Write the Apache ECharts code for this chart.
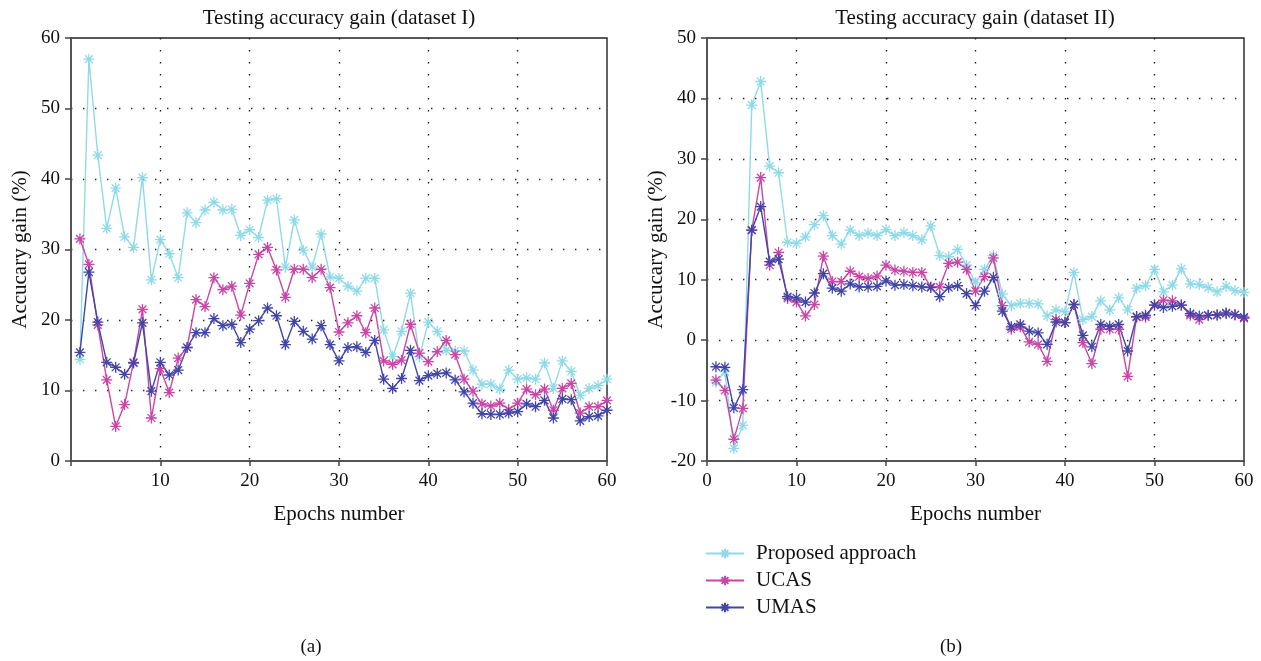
<!DOCTYPE html>
<html>
<head>
<meta charset="utf-8">
<script src="https://cdn.jsdelivr.net/npm/echarts@6/dist/echarts.min.js"></script>
<style>
  html, body { margin: 0; padding: 0; background: #fff; }
  #chart { width: 1261px; height: 661px; }
</style>
</head>
<body>
<div id="chart"></div>
<script>
// Epoch axis ticks
const epochTicks = [0, 10, 20, 30, 40, 50, 60];
const seriesNames = ['Proposed approach', 'UCAS', 'UMAS'];

// Dataset I: accuracy gain (%) per epoch 1..60
const proposedI = [14.4, 57.0, 43.4, 33.0, 38.7, 31.8, 30.3, 40.2, 25.7, 31.4,
  29.4, 26.0, 35.2, 33.8, 35.6, 36.7, 35.6, 35.7, 32.0, 32.8,
  31.7, 37.0, 37.2, 27.5, 34.2, 29.9, 27.5, 32.2, 26.1, 25.9,
  24.8, 24.1, 25.9, 25.9, 18.6, 14.8, 18.4, 23.8, 14.8, 19.7,
  18.4, 15.7, 15.6, 15.6, 12.9, 10.9, 10.9, 10.2, 12.9, 11.6,
  11.8, 11.6, 13.9, 10.3, 14.2, 12.7, 9.3, 10.3, 10.7, 11.6];
const ucasI = [31.5, 27.9, 19.3, 11.5, 4.9, 8.0, 14.0, 21.5, 6.1, 13.1,
  9.7, 14.6, 16.1, 22.9, 21.9, 26.0, 24.3, 24.8, 20.7, 25.2,
  29.3, 30.3, 27.1, 23.2, 27.2, 27.2, 26.0, 27.2, 24.6, 18.3,
  19.6, 20.6, 18.2, 21.7, 14.2, 13.7, 14.3, 19.4, 15.3, 14.1,
  15.5, 17.1, 15.1, 11.6, 9.9, 8.1, 7.8, 8.2, 7.3, 8.2,
  10.2, 9.4, 10.2, 7.2, 10.3, 11.0, 6.8, 7.7, 7.7, 8.6];
const umasI = [15.4, 26.8, 19.7, 14.0, 13.3, 12.3, 13.9, 19.6, 9.9, 14.0,
  12.2, 12.9, 16.1, 18.2, 18.2, 20.2, 19.2, 19.4, 16.8, 18.7,
  19.9, 21.7, 20.6, 16.5, 19.8, 18.4, 17.3, 19.2, 16.5, 14.2,
  16.1, 16.2, 15.4, 17.1, 11.6, 10.3, 11.7, 15.7, 11.4, 12.1,
  12.4, 12.5, 11.5, 9.8, 8.2, 6.7, 6.6, 6.6, 6.8, 7.0,
  8.1, 7.7, 8.6, 6.1, 8.8, 8.7, 5.7, 6.3, 6.4, 7.2];

// Dataset II: accuracy gain (%) per epoch 1..60
const proposedII = [-7.0, -5.2, -17.9, -14.1, 38.9, 42.8, 28.8, 27.7, 16.2, 16.0,
  17.1, 19.1, 20.6, 17.3, 15.9, 18.2, 17.3, 17.7, 17.3, 18.3,
  17.3, 17.8, 17.3, 16.6, 18.9, 14.0, 13.8, 15.0, 12.4, 9.5,
  11.7, 14.0, 7.6, 5.7, 6.1, 6.1, 6.0, 4.0, 5.0, 4.7,
  11.2, 3.4, 3.9, 6.5, 5.0, 7.0, 5.0, 8.6, 9.0, 11.7,
  8.0, 9.1, 11.8, 9.3, 9.2, 8.7, 8.0, 8.9, 8.2, 7.9];
const ucasII = [-6.6, -8.3, -16.4, -11.3, 18.2, 26.9, 12.4, 14.5, 6.9, 6.3,
  4.0, 5.9, 13.9, 9.7, 9.7, 11.4, 10.5, 10.2, 10.6, 12.4,
  11.6, 11.4, 11.2, 11.2, 8.8, 8.8, 12.7, 12.9, 11.7, 8.1,
  10.5, 13.6, 5.7, 1.8, 2.2, -0.3, -0.7, -3.5, 3.4, 2.9,
  5.9, -0.4, -3.9, 1.8, 1.8, 1.8, -6.0, 3.8, 3.8, 5.8,
  6.6, 6.5, 5.8, 4.1, 3.4, 4.1, 4.1, 4.4, 4.2, 3.6];
const umasII = [-4.4, -4.5, -11.2, -8.2, 18.2, 22.1, 13.0, 13.4, 7.2, 7.0,
  6.3, 7.8, 11.0, 8.6, 8.1, 9.3, 8.8, 8.8, 8.9, 9.8,
  9.1, 9.2, 9.0, 8.8, 8.7, 7.2, 8.7, 9.0, 7.7, 5.7,
  8.1, 10.4, 4.8, 2.2, 2.6, 1.5, 1.2, -0.7, 3.0, 2.9,
  5.9, 0.8, -1.1, 2.6, 2.3, 2.6, -1.8, 3.9, 4.1, 5.8,
  5.4, 5.6, 5.8, 4.4, 4.0, 4.1, 4.2, 4.5, 4.2, 3.8];

const colors = ['#8fdae8', '#c946a8', '#4146a6'];
const FONT = '"Liberation Serif", "Times New Roman", serif';
// eight-armed asterisk marker, stroked
const STAR = 'path://M0,-10L0,10M-10,0L10,0M-7.07,-7.07L7.07,7.07M-7.07,7.07L7.07,-7.07';

function pairs(vals) { return vals.map((v, i) => [i + 1, v]); }

const dotted = {
  show: true, showMinLine: false, showMaxLine: false,
  lineStyle: { color: '#222', width: 1.4, type: [1.4, 10.6] }
};

function xAxisFor(gridIndex, showZero) {
  return {
    type: 'value', gridIndex, min: epochTicks[0], max: epochTicks[epochTicks.length - 1], interval: 10,
    name: 'Epochs number', nameLocation: 'middle', nameGap: 43,
    nameTextStyle: { fontFamily: FONT, fontSize: 21, color: '#111' },
    axisLine: { show: true, onZero: false, lineStyle: { color: '#555', width: 2 } },
    axisTick: { show: true, inside: false, length: 5, lineStyle: { color: '#444', width: 1.5 } },
    axisLabel: {
      fontFamily: FONT, fontSize: 19, color: '#111', margin: 11,
      formatter: v => (v === 0 && !showZero) ? '' : String(v)
    },
    splitLine: dotted
  };
}

function yAxisFor(gridIndex, min, max) {
  return {
    type: 'value', gridIndex, min, max, interval: 10,
    name: 'Accucary gain (%)', nameLocation: 'middle', nameRotate: 90, nameGap: 40,
    nameTextStyle: { fontFamily: FONT, fontSize: 21, color: '#111' },
    axisLine: { show: true, onZero: false, lineStyle: { color: '#555', width: 2 } },
    axisTick: { show: true, inside: false, length: 6, lineStyle: { color: '#444', width: 1.5 } },
    axisLabel: { fontFamily: FONT, fontSize: 19, color: '#111', margin: 11 },
    splitLine: dotted
  };
}

function lineSeries(name, vals, idx, colorIdx) {
  const c = colors[colorIdx];
  return {
    type: 'line', name, xAxisIndex: idx, yAxisIndex: idx,
    data: pairs(vals),
    symbol: STAR, symbolSize: 11, showSymbol: true,
    lineStyle: { color: c, width: 1.4 },
    itemStyle: { color: c, borderColor: c, borderWidth: 1.3 },
    emphasis: { disabled: true }
  };
}

const chart = echarts.init(document.getElementById('chart'), null, { renderer: 'canvas' });
chart.setOption({
  animation: false,
  backgroundColor: '#fff',
  title: [
    { text: 'Testing accuracy gain (dataset I)', left: 339, top: 8, textAlign: 'center', padding: 0,
      textStyle: { fontFamily: FONT, fontSize: 21, fontWeight: 'normal', color: '#111' } },
    { text: 'Testing accuracy gain (dataset II)', left: 975, top: 8, textAlign: 'center', padding: 0,
      textStyle: { fontFamily: FONT, fontSize: 21, fontWeight: 'normal', color: '#111' } },
    { text: '(a)', left: 311, top: 638, textAlign: 'center', padding: 0,
      textStyle: { fontFamily: FONT, fontSize: 19, fontWeight: 'normal', color: '#111' } },
    { text: '(b)', left: 951, top: 638, textAlign: 'center', padding: 0,
      textStyle: { fontFamily: FONT, fontSize: 19, fontWeight: 'normal', color: '#111' } }
  ],
  legend: {
    data: seriesNames, orient: 'vertical', left: 705, top: 543, padding: 0,
    itemWidth: 38, itemHeight: 12, itemGap: 6,
    textStyle: { fontFamily: FONT, fontSize: 21, color: '#111', padding: [0, 0, 0, 7] }
  },
  grid: [
    { left: 71, top: 38, width: 536, height: 423, show: true, borderColor: '#222', borderWidth: 1.4, backgroundColor: 'transparent' },
    { left: 707, top: 38, width: 537, height: 423, show: true, borderColor: '#222', borderWidth: 1.4, backgroundColor: 'transparent' }
  ],
  xAxis: [xAxisFor(0, false), xAxisFor(1, true)],
  yAxis: [yAxisFor(0, 0, 60), yAxisFor(1, -20, 50)],
  series: [
    lineSeries(seriesNames[0], proposedI, 0, 0),
    lineSeries(seriesNames[1], ucasI, 0, 1),
    lineSeries(seriesNames[2], umasI, 0, 2),
    lineSeries(seriesNames[0], proposedII, 1, 0),
    lineSeries(seriesNames[1], ucasII, 1, 1),
    lineSeries(seriesNames[2], umasII, 1, 2)
  ]
});
</script>
</body>
</html>
